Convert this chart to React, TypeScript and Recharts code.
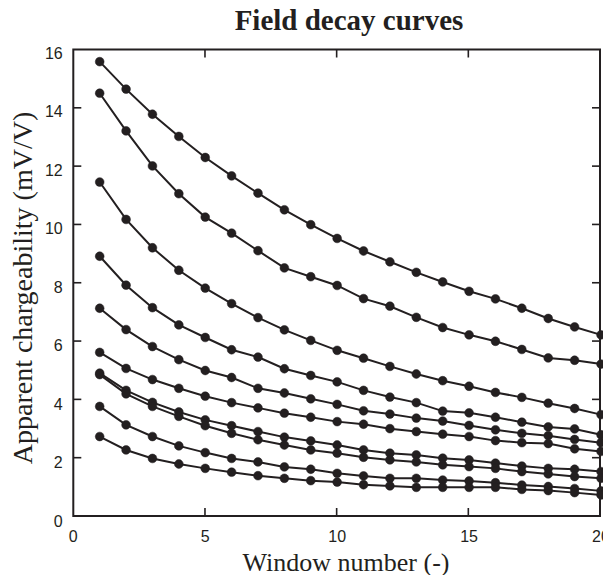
import React from "react";
import { LineChart, Line, XAxis, YAxis } from "recharts";

const windows = [1, 2, 3, 4, 5, 6, 7, 8, 9, 10, 11, 12, 13, 14, 15, 16, 17, 18, 19, 20];

const curve1 = [15.55, 14.61, 13.75, 12.99, 12.27, 11.64, 11.05, 10.48, 9.97, 9.5, 9.07, 8.7, 8.34, 8.01, 7.69, 7.43, 7.11, 6.76, 6.47, 6.2];
const curve2 = [14.47, 13.18, 11.98, 11.03, 10.23, 9.68, 9.08, 8.49, 8.19, 7.89, 7.44, 7.18, 6.8, 6.45, 6.2, 5.98, 5.7, 5.41, 5.33, 5.2];
const curve3 = [11.43, 10.15, 9.18, 8.41, 7.8, 7.27, 6.79, 6.37, 6.01, 5.67, 5.4, 5.12, 4.86, 4.63, 4.44, 4.23, 4.06, 3.86, 3.68, 3.47];
const curve4 = [8.89, 7.9, 7.13, 6.54, 6.11, 5.69, 5.44, 5.04, 4.81, 4.59, 4.3, 4.07, 3.88, 3.59, 3.53, 3.38, 3.21, 3.05, 2.98, 2.78];
const curve5 = [7.11, 6.38, 5.8, 5.35, 4.98, 4.74, 4.37, 4.21, 4.01, 3.82, 3.6, 3.49, 3.35, 3.25, 3.1, 2.95, 2.83, 2.75, 2.62, 2.51];
const curve6 = [5.6, 5.05, 4.67, 4.37, 4.1, 3.88, 3.7, 3.52, 3.38, 3.23, 3.14, 2.99, 2.89, 2.8, 2.72, 2.58, 2.51, 2.48, 2.3, 2.21];
const curve7 = [4.89, 4.3, 3.89, 3.56, 3.29, 3.09, 2.89, 2.7, 2.57, 2.43, 2.26, 2.15, 2.09, 1.98, 1.92, 1.81, 1.71, 1.63, 1.6, 1.52];
const curve8 = [4.84, 4.18, 3.75, 3.41, 3.09, 2.83, 2.61, 2.43, 2.26, 2.15, 2.01, 1.92, 1.85, 1.75, 1.69, 1.63, 1.52, 1.44, 1.35, 1.29];
const curve9 = [3.75, 3.12, 2.72, 2.4, 2.17, 1.97, 1.85, 1.68, 1.6, 1.46, 1.37, 1.29, 1.29, 1.23, 1.2, 1.14, 1.06, 1.01, 0.94, 0.86];
const curve10 = [2.72, 2.26, 1.97, 1.78, 1.63, 1.5, 1.38, 1.29, 1.21, 1.16, 1.07, 1.03, 0.98, 0.98, 0.98, 0.98, 0.91, 0.87, 0.8, 0.72];

const curves = [curve1, curve2, curve3, curve4, curve5, curve6, curve7, curve8, curve9, curve10];

const xTicks = [0, 5, 10, 15, 20];
const xInnerTicks = [5, 10, 15];
const yTicks = [0, 2, 4, 6, 8, 10, 12, 14, 16];
const yInnerTicks = [2, 4, 6, 8, 10, 12, 14];
const X_MAX = 20;
const Y_MAX = 16;

const titleText = "Field decay curves";
const xLabelText = "Window number (-)";
const yLabelText = "Apparent chargeability (mV/V)";

const rows = windows.map((w, i) => {
  const r: Record<string, number> = { x: w };
  curves.forEach((c, k) => {
    r["c" + (k + 1)] = c[i];
  });
  return r;
});

const INK = "#231f20";
const TICK_FONT = "Liberation Sans";
const SERIF = "Liberation Serif";
const TL = 8;
const TW = 1.6;
const FW = 2;

const W = 603;
const H = 567;
const M = { top: 40.5, right: 10, bottom: 58, left: 64.3 };
const PL = M.left + 1;
const PT = M.top + 1;
const PR = W - M.right - 1;
const PB = H - M.bottom - 1;

const LeftTick = (props: any) => {
  const x = Number(props.x);
  const y = Number(props.y);
  return (
    <text x={x - 10.6} y={y + 5} textAnchor="end" dominantBaseline="central" fontFamily={TICK_FONT} fontSize={16} fill={INK}>
      {props.payload.value}
    </text>
  );
};

const BottomTick = (props: any) => {
  const x = Number(props.x);
  const y = Number(props.y);
  return (
    <text x={x} y={y + 20.7} textAnchor="middle" dominantBaseline="central" fontFamily={TICK_FONT} fontSize={16} fill={INK}>
      {props.payload.value}
    </text>
  );
};

export default function App() {
  const sx = (v: number) => PL + (v / X_MAX) * (PR - PL);
  const sy = (v: number) => PB - (v / Y_MAX) * (PB - PT);
  return (
    <div style={{ position: "relative", width: W, height: H }}>
      <style>{`.recharts-wrapper,.recharts-surface{overflow:visible !important}`}</style>
      <LineChart width={W} height={H} data={rows} margin={M} style={{ overflow: "visible" }}>
        <XAxis
          xAxisId="b"
          dataKey="x"
          type="number"
          domain={[0, X_MAX]}
          ticks={xTicks}
          height={1}
          tickSize={0}
          tickMargin={0}
          tick={<BottomTick />}
          axisLine={false}
          tickLine={false}
          interval={0}
        />
        <YAxis
          yAxisId="l"
          type="number"
          domain={[0, Y_MAX]}
          ticks={yTicks}
          width={1}
          tickSize={0}
          tickMargin={0}
          tick={<LeftTick />}
          axisLine={false}
          tickLine={false}
          interval={0}
        />
        {curves.map((_, k) => (
          <Line
            key={k}
            xAxisId="b"
            yAxisId="l"
            type="linear"
            dataKey={"c" + (k + 1)}
            stroke={INK}
            strokeWidth={2}
            dot={{ r: 4.4, fill: INK, stroke: INK, strokeWidth: 0.5 }}
            activeDot={false}
            isAnimationActive={false}
          />
        ))}
      </LineChart>
      <svg
        width={W}
        height={H}
        style={{ position: "absolute", left: 0, top: 0, pointerEvents: "none", overflow: "visible", zIndex: 5 }}
      >
        <rect
          x={PL}
          y={PT}
          width={PR - PL}
          height={PB - PT}
          fill="none"
          stroke={INK}
          strokeWidth={FW}
        />
        {xInnerTicks.map((v) => (
          <g key={"x" + v}>
            <rect x={sx(v) - TW / 2} y={PB - TL} width={TW} height={TL} fill={INK} />
            <rect x={sx(v) - TW / 2} y={PT} width={TW} height={TL} fill={INK} />
          </g>
        ))}
        {yInnerTicks.map((v) => (
          <g key={"y" + v}>
            <rect x={PL} y={sy(v) - TW / 2} width={TL} height={TW} fill={INK} />
            <rect x={PR - TL} y={sy(v) - TW / 2} width={TL} height={TW} fill={INK} />
          </g>
        ))}
        <text x={341} y={22} textAnchor="middle" fontFamily={SERIF} fontWeight="bold" fontSize={29} fill={INK}>
          {titleText}
        </text>
        <text x={338} y={563} textAnchor="middle" fontFamily={SERIF} fontSize={26} fill={INK}>
          {xLabelText}
        </text>
        <text
          x={0}
          y={0}
          transform="translate(24, 280) rotate(-90)"
          textAnchor="middle"
          fontFamily={SERIF}
          fontSize={28}
          fill={INK}
        >
          {yLabelText}
        </text>
      </svg>
    </div>
  );
}
